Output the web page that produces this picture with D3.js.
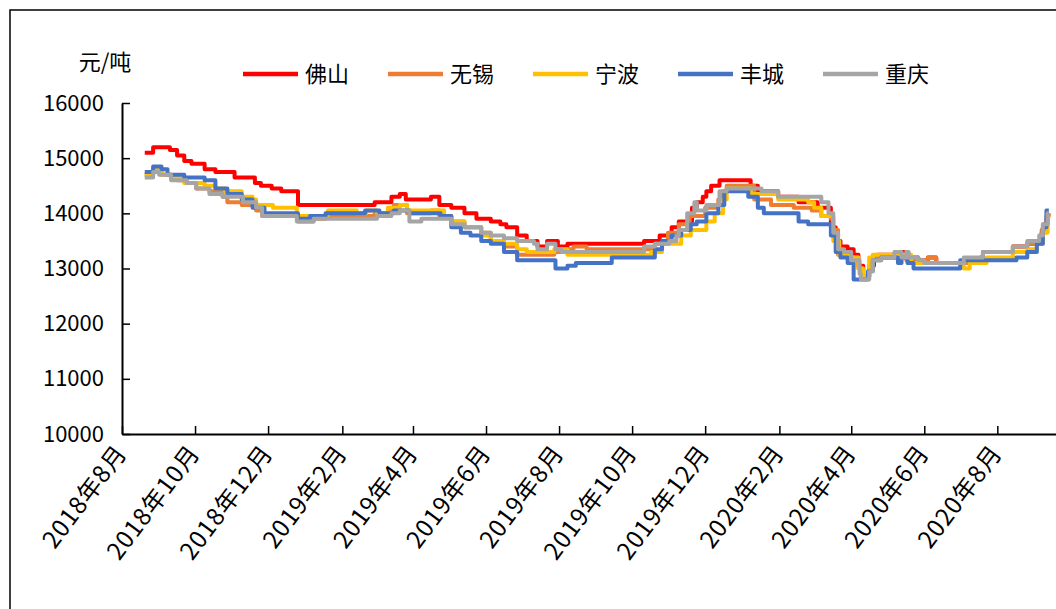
<!DOCTYPE html>
<html>
<head>
<meta charset="utf-8">
<script src="https://cdn.jsdelivr.net/npm/d3@7"></script>
<style>
  body { margin: 0; background: #fff; }
  text { font-family: "Noto Sans CJK SC", "Microsoft YaHei", sans-serif; fill: #000; }
</style>
</head>
<body>
<svg id="chart" width="1056" height="609"></svg>
<script>
  // series names / colours (legend order = draw order)
  let seriesNames = ["佛山", "无锡", "宁波", "丰城", "重庆"];
  let seriesColors = ["#FF0000", "#ED7D31", "#FFC000", "#4472C4", "#A5A5A5"];

  // price change points [date, 元/吨]
  let foshan = [["2018-08-20",15100],["2018-08-27",15200],["2018-09-10",15150],["2018-09-16",15050],["2018-09-22",14950],["2018-09-28",14900],["2018-10-09",14800],["2018-10-18",14750],["2018-11-03",14650],["2018-11-20",14550],["2018-11-25",14500],["2018-12-04",14450],["2018-12-12",14400],["2018-12-26",14150],["2019-02-28",14200],["2019-03-14",14300],["2019-03-21",14350],["2019-03-26",14250],["2019-04-16",14300],["2019-04-23",14150],["2019-05-03",14100],["2019-05-14",14000],["2019-05-24",13900],["2019-06-05",13850],["2019-06-13",13800],["2019-06-18",13750],["2019-06-27",13600],["2019-07-05",13500],["2019-07-14",13400],["2019-07-22",13500],["2019-07-31",13400],["2019-08-08",13450],["2019-10-11",13500],["2019-10-24",13600],["2019-11-03",13750],["2019-11-09",13850],["2019-11-20",14100],["2019-11-24",14200],["2019-11-29",14300],["2019-12-02",14400],["2019-12-06",14500],["2019-12-13",14600],["2020-01-08",14500],["2020-01-14",14400],["2020-01-31",14300],["2020-02-17",14200],["2020-03-04",14100],["2020-03-15",13750],["2020-03-19",13500],["2020-03-23",13400],["2020-03-29",13350],["2020-04-03",13250],["2020-04-07",13050],["2020-04-11",12850],["2020-04-16",13050],["2020-04-20",13200],["2020-04-23",13250],["2020-05-08",13300],["2020-05-15",13200],["2020-05-27",13150],["2020-06-04",13200],["2020-06-11",13100],["2020-07-18",13200],["2020-07-20",13300],["2020-08-14",13400],["2020-08-26",13450],["2020-09-03",13500],["2020-09-07",13650],["2020-09-09",13800],["2020-09-12",14000],["2020-09-13",14000]];
  let wuxi = [["2018-08-20",14700],["2018-08-27",14800],["2018-09-03",14700],["2018-09-11",14650],["2018-09-16",14600],["2018-09-24",14550],["2018-10-02",14450],["2018-10-13",14400],["2018-10-24",14300],["2018-10-28",14200],["2018-11-09",14150],["2018-11-21",14050],["2018-11-26",13950],["2018-12-26",13850],["2019-01-08",13900],["2019-01-18",13950],["2019-02-28",14000],["2019-03-12",14050],["2019-03-16",14150],["2019-03-27",14000],["2019-04-16",14050],["2019-04-23",13950],["2019-05-03",13850],["2019-05-14",13750],["2019-05-28",13650],["2019-06-05",13500],["2019-06-16",13400],["2019-06-27",13250],["2019-07-28",13300],["2019-08-03",13350],["2019-08-13",13400],["2019-08-24",13350],["2019-10-20",13450],["2019-10-31",13650],["2019-11-09",13800],["2019-11-18",13950],["2019-12-01",14100],["2019-12-12",14250],["2019-12-16",14400],["2019-12-19",14500],["2020-01-11",14250],["2020-01-25",14150],["2020-02-13",14100],["2020-02-28",14050],["2020-03-07",13950],["2020-03-15",13900],["2020-03-17",13700],["2020-03-21",13250],["2020-03-29",13200],["2020-04-07",13000],["2020-04-11",12850],["2020-04-16",13050],["2020-04-19",13200],["2020-05-08",13250],["2020-05-17",13150],["2020-06-01",13100],["2020-06-04",13200],["2020-06-11",13100],["2020-07-18",13200],["2020-07-20",13300],["2020-08-14",13400],["2020-08-26",13450],["2020-09-03",13500],["2020-09-07",13700],["2020-09-11",13950],["2020-09-13",14000]];
  let ningbo = [["2018-08-20",14700],["2018-08-27",14800],["2018-09-03",14700],["2018-09-11",14650],["2018-09-22",14550],["2018-10-09",14500],["2018-10-18",14450],["2018-10-26",14400],["2018-11-09",14300],["2018-11-18",14250],["2018-11-21",14150],["2018-12-05",14100],["2018-12-25",13950],["2019-01-20",14050],["2019-02-13",14000],["2019-02-21",14050],["2019-03-02",14000],["2019-03-11",14100],["2019-03-21",14150],["2019-03-27",14050],["2019-04-27",13950],["2019-05-03",13850],["2019-05-14",13750],["2019-05-28",13600],["2019-06-05",13500],["2019-06-16",13450],["2019-06-27",13350],["2019-07-05",13300],["2019-07-28",13350],["2019-08-08",13250],["2019-10-17",13300],["2019-10-26",13450],["2019-11-11",13600],["2019-11-19",13700],["2019-12-02",13850],["2019-12-09",14000],["2019-12-16",14250],["2019-12-19",14450],["2020-01-08",14350],["2020-01-31",14250],["2020-02-25",14200],["2020-03-01",14100],["2020-03-07",13950],["2020-03-17",13500],["2020-03-22",13250],["2020-03-29",13200],["2020-04-07",13000],["2020-04-11",12850],["2020-04-16",13200],["2020-04-19",13250],["2020-05-21",13100],["2020-07-04",13000],["2020-07-09",13100],["2020-07-23",13200],["2020-08-14",13300],["2020-08-26",13350],["2020-09-03",13450],["2020-09-08",13650],["2020-09-12",13950],["2020-09-13",13950]];
  let fengcheng = [["2018-08-20",14750],["2018-08-27",14850],["2018-09-03",14800],["2018-09-08",14700],["2018-09-22",14650],["2018-10-09",14600],["2018-10-18",14450],["2018-10-28",14350],["2018-11-09",14250],["2018-11-18",14100],["2018-11-28",14000],["2018-12-26",13900],["2019-01-05",13950],["2019-01-18",14000],["2019-02-20",14050],["2019-03-04",14000],["2019-03-16",14050],["2019-03-29",14000],["2019-04-24",13950],["2019-05-03",13750],["2019-05-11",13650],["2019-05-19",13600],["2019-05-28",13500],["2019-06-05",13450],["2019-06-16",13300],["2019-06-27",13150],["2019-07-29",13000],["2019-08-08",13050],["2019-08-15",13100],["2019-09-14",13200],["2019-10-20",13350],["2019-10-26",13500],["2019-11-03",13600],["2019-11-11",13700],["2019-11-19",13800],["2019-11-24",13850],["2019-12-02",14000],["2019-12-12",14150],["2019-12-17",14400],["2020-01-06",14300],["2020-01-14",14100],["2020-01-19",14000],["2020-02-17",13850],["2020-02-25",13800],["2020-03-15",13600],["2020-03-19",13300],["2020-03-23",13200],["2020-03-29",13100],["2020-04-03",12800],["2020-04-15",12950],["2020-04-19",13150],["2020-04-26",13200],["2020-05-10",13100],["2020-05-13",13200],["2020-05-18",13100],["2020-05-23",13000],["2020-07-01",13150],["2020-08-17",13200],["2020-08-26",13300],["2020-09-03",13450],["2020-09-08",13750],["2020-09-11",14050],["2020-09-13",14050]];
  let chongqing = [["2018-08-20",14650],["2018-08-27",14750],["2018-09-01",14700],["2018-09-11",14600],["2018-09-24",14550],["2018-10-02",14450],["2018-10-13",14350],["2018-10-24",14300],["2018-11-10",14200],["2018-11-21",14100],["2018-11-26",13950],["2018-12-25",13850],["2019-01-08",13900],["2019-03-02",13950],["2019-03-14",14000],["2019-03-21",14050],["2019-03-29",13850],["2019-04-08",13900],["2019-05-03",13800],["2019-05-14",13750],["2019-05-28",13650],["2019-06-05",13600],["2019-06-16",13550],["2019-06-27",13500],["2019-07-11",13450],["2019-07-14",13350],["2019-07-22",13450],["2019-07-29",13350],["2019-08-03",13300],["2019-10-11",13400],["2019-10-20",13450],["2019-11-01",13500],["2019-11-07",13600],["2019-11-09",13700],["2019-11-16",14000],["2019-11-22",14200],["2019-11-24",14050],["2019-12-02",14150],["2019-12-13",14400],["2019-12-19",14450],["2020-01-17",14400],["2020-01-31",14300],["2020-03-07",14200],["2020-03-13",14000],["2020-03-17",13650],["2020-03-21",13350],["2020-03-26",13300],["2020-04-01",13150],["2020-04-08",12900],["2020-04-09",12800],["2020-04-16",12950],["2020-04-19",13150],["2020-04-26",13200],["2020-05-07",13300],["2020-05-13",13200],["2020-05-17",13300],["2020-05-19",13200],["2020-05-27",13150],["2020-06-01",13100],["2020-07-04",13200],["2020-07-20",13300],["2020-08-14",13400],["2020-08-26",13500],["2020-09-05",13600],["2020-09-08",13800],["2020-09-12",14000],["2020-09-13",14000]];

  let yTicks = [10000, 11000, 12000, 13000, 14000, 15000, 16000];
  let xTicks = ["2018-08-01","2018-10-01","2018-12-01","2019-02-01","2019-04-01","2019-06-01","2019-08-01","2019-10-01","2019-12-01","2020-02-01","2020-04-01","2020-06-01","2020-08-01"];
  let unitLabel = "元/吨";

  let parseDate = d3.timeParse("%Y-%m-%d");
  let allSeries = [foshan, wuxi, ningbo, fengcheng, chongqing].map(function(s, i) {
    return { name: seriesNames[i], color: seriesColors[i],
             values: s.map(function(d) { return { date: parseDate(d[0]), v: d[1] }; }) };
  });

  let svg = d3.select("#chart");
  let margin = { top: 103, bottom: 175, left: 122 };
  let width = +svg.attr("width"), height = +svg.attr("height");

  // outer frame (right/bottom edges fall outside the picture)
  svg.append("rect").attr("x", 10).attr("y", 10).attr("width", 1100).attr("height", 700)
    .attr("fill", "none").attr("stroke", "#000").attr("stroke-width", 1.5);

  let x = d3.scaleTime()
    .domain([parseDate("2018-08-01"), parseDate("2020-09-19")])
    .range([margin.left, width]);
  let y = d3.scaleLinear().domain([10000, 16000]).range([height - margin.bottom, margin.top]);

  // y axis, ticks pointing inward
  let yAxisG = svg.append("g").attr("transform", "translate(" + margin.left + ",0)")
    .call(d3.axisLeft(y).tickValues(yTicks).tickFormat(d3.format("d")).tickSizeInner(-8).tickSizeOuter(0).tickPadding(18));
  yAxisG.select(".domain").attr("stroke-width", 2);
  yAxisG.selectAll(".tick line").attr("stroke-width", 1.5);
  yAxisG.selectAll("text").style("font-size", "22px").attr("font-family", null);

  // x axis
  let xAxisG = svg.append("g").attr("transform", "translate(0," + y(10000) + ")")
    .call(d3.axisBottom(x).tickValues(xTicks.map(parseDate)).tickSizeInner(-8).tickSizeOuter(0).tickFormat(""));
  xAxisG.select(".domain").attr("stroke-width", 2);
  xAxisG.selectAll(".tick line").attr("stroke-width", 1.5);

  svg.append("g").selectAll("text")
    .data(xTicks.map(parseDate))
    .enter().append("text")
    .attr("text-anchor", "end")
    .attr("transform", function(d) { return "translate(" + (x(d) + 6) + "," + (y(10000) + 19) + ") rotate(-53)"; })
    .style("font-size", "24px")
    .style("letter-spacing", "1px")
    .text(function(d) { return d.getFullYear() + "年" + (d.getMonth() + 1) + "月"; });

  // unit label
  svg.append("text").attr("x", 105).attr("y", 70).attr("text-anchor", "middle")
    .style("font-size", "22px").text(unitLabel);

  // lines
  let line = d3.line().curve(d3.curveStepAfter)
    .x(function(d) { return x(d.date); })
    .y(function(d) { return y(d.v); });

  svg.append("g").selectAll("path")
    .data(allSeries)
    .enter().append("path")
    .attr("fill", "none")
    .attr("stroke", function(d) { return d.color; })
    .attr("stroke-width", 4)
    .attr("stroke-linejoin", "round")
    .attr("d", function(d) { return line(d.values); });

  // legend
  let legend = svg.append("g").selectAll("g")
    .data(allSeries)
    .enter().append("g")
    .attr("transform", function(d, i) { return "translate(" + (243 + i * 145) + ",74)"; });
  legend.append("line").attr("x1", 0).attr("x2", 55).attr("y1", 0).attr("y2", 0)
    .attr("stroke", function(d) { return d.color; }).attr("stroke-width", 4.5);
  legend.append("text").attr("x", 62).attr("y", 8)
    .style("font-size", "22px").text(function(d) { return d.name; });
</script>
</body>
</html>
